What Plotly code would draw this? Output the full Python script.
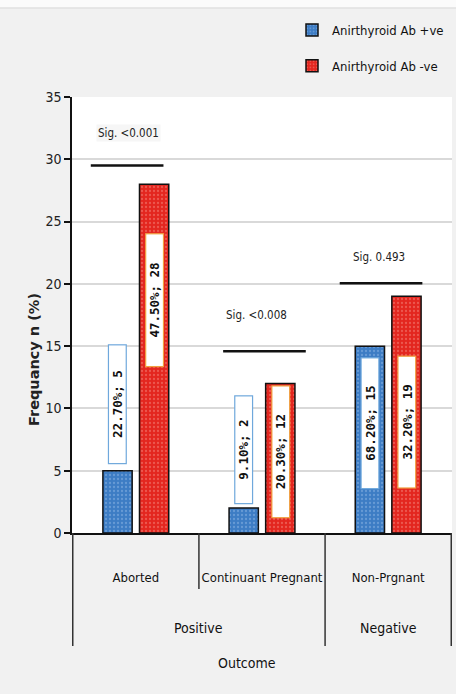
import plotly.graph_objects as go

# ---- data ----
outer_groups = ["Positive", "Negative"]
outer_members = [2, 1]
categories = ["Aborted", "Continuant Pregnant", "Non-Prgnant"]
series_names = ["Anirthyroid Ab +ve", "Anirthyroid Ab -ve"]
pos_values = [5, 2, 15]
neg_values = [28, 12, 19]
pos_pct = ["22.70%", "9.10%", "68.20%"]
neg_pct = ["47.50%", "20.30%", "32.20%"]
sig_labels = ["Sig. <0.001", "Sig. <0.008", "Sig. 0.493"]
y_ticks = [0, 5, 10, 15, 20, 25, 30, 35]

# ---- layout / style specs ----
NARROW = "DejaVu Sans Condensed, Liberation Sans Narrow, sans-serif"
BLUE = "#3d7cc4"
BLUE_DOT = "#8fb8e6"
RED = "#e3261f"
RED_DOT = "#f38a80"
OFF = 0.145  # bar centre offset from category centre (axis units)

pos_lab_y = [10.3, 6.7, 8.8]
pos_lab_len = [116, 105, 128]
neg_lab_y = [18.7, 6.5, 8.9]
neg_lab_len = [130, 129, 129]
sig_x0 = [-0.357, -0.308, -0.384]
sig_x1 = [0.219, 0.347, 0.271]
sig_y = [29.5, 14.6, 20.05]
sig_tx = [-0.058, -0.04, -0.07]
sig_ty = [32.1, 17.5, 22.15]

fig = go.Figure()
fig.add_trace(go.Bar(
    x=categories, y=pos_values, name=series_names[0], legendgroup="a",
    marker=dict(color=BLUE, line=dict(color="#111111", width=1.5),
                pattern=dict(shape=".", fgcolor=BLUE_DOT, size=4, solidity=0.25)),
))
fig.add_trace(go.Bar(
    x=categories, y=neg_values, name=series_names[1], legendgroup="b",
    marker=dict(color=RED, line=dict(color="#111111", width=1.5),
                pattern=dict(shape=".", fgcolor=RED_DOT, size=4, solidity=0.25)),
))

LABEL_FONT = dict(family="DejaVu Sans Mono, monospace", size=12.5, color="#111111", weight="bold")
annotations = []
shapes = []
for i in range(len(categories)):
    annotations.append(dict(
        x=i - OFF, y=pos_lab_y[i], xref="x", yref="y",
        text=f"{pos_pct[i]}; {pos_values[i]}", showarrow=False, textangle=-90,
        font=LABEL_FONT,
        bgcolor="white", bordercolor="#6fa8dc", borderwidth=1.2, borderpad=1,
        width=pos_lab_len[i], height=15,
    ))
    annotations.append(dict(
        x=i + OFF, y=neg_lab_y[i], xref="x", yref="y",
        text=f"{neg_pct[i]}; {neg_values[i]}", showarrow=False, textangle=-90,
        font=LABEL_FONT,
        bgcolor="white", bordercolor="#f0a040", borderwidth=1.2, borderpad=1,
        width=neg_lab_len[i], height=15,
    ))
    shapes.append(dict(type="line", xref="x", yref="y",
                       x0=i + sig_x0[i], x1=i + sig_x1[i], y0=sig_y[i], y1=sig_y[i],
                       line=dict(color="#111111", width=2.5)))
    annotations.append(dict(
        x=i + sig_tx[i], y=sig_ty[i], xref="x", yref="y", text=sig_labels[i],
        showarrow=False, font=dict(family=NARROW, size=11.5, color="#222222"),
        bgcolor="#f6f6f6" if i == 0 else "rgba(0,0,0,0)",
    ))

PLOT_H = 436.0
def py(px_below):
    return -px_below / PLOT_H

start = 0
for g, n in zip(outer_groups, outer_members):
    centre = start + (n - 1) / 2
    annotations.append(dict(x=centre, y=py(95), xref="x", yref="paper", text=g,
                            showarrow=False, yanchor="middle",
                            font=dict(family=NARROW, size=14, color="#111111")))
    shapes.append(dict(type="line", xref="x", yref="paper", x0=start - 0.5, x1=start - 0.5,
                       y0=0, y1=py(113), line=dict(color="#333333", width=1.5)))
    for k in range(1, n):
        shapes.append(dict(type="line", xref="x", yref="paper", x0=start + k - 0.5,
                           x1=start + k - 0.5, y0=0, y1=py(56),
                           line=dict(color="#333333", width=1.5)))
    start += n
shapes.append(dict(type="line", xref="x", yref="paper", x0=start - 0.5, x1=start - 0.5,
                   y0=0, y1=py(113), line=dict(color="#333333", width=1.5)))

annotations.append(dict(x=(247 - 72) / 380, y=py(130), xref="paper", yref="paper",
                        text="Outcome", showarrow=False, yanchor="middle",
                        font=dict(family=NARROW, size=14, color="#111111")))
annotations.append(dict(x=-(72 - 24) / 380, y=(533 - 360) / PLOT_H, xref="paper", yref="paper",
                        text="Frequancy n (%)", showarrow=False, textangle=-90,
                        font=dict(family="DejaVu Sans, Verdana, sans-serif", size=14.5,
                                  color="#222222", weight="bold")))

shapes.append(dict(type="rect", xref="paper", yref="paper", x0=-0.3, x1=1.1,
                   y0=(533 - 8) / PLOT_H, y1=1.3, fillcolor="#fbfbfb",
                   line=dict(width=0), layer="below"))
shapes.append(dict(type="line", xref="paper", yref="paper", x0=-0.3, x1=1.1,
                   y0=(533 - 8) / PLOT_H, y1=(533 - 8) / PLOT_H,
                   line=dict(color="#e0e0e0", width=1.5), layer="below"))

fig.update_layout(
    width=456, height=694,
    margin=dict(l=72, r=4, t=97, b=161, autoexpand=False),
    paper_bgcolor="#f1f1f1", plot_bgcolor="white",
    barmode="group", bargap=0.42, bargroupgap=0.2,
    showlegend=True,
    legend=dict(x=(292 - 72) / 380, y=(533 - 15) / PLOT_H, xanchor="left", yanchor="top",
                bgcolor="rgba(0,0,0,0)", tracegroupgap=16,
                font=dict(family=NARROW, size=13, color="#111111"),
                itemwidth=30),
    annotations=annotations, shapes=shapes,
    font=dict(family=NARROW, color="#222222"),
)
fig.update_xaxes(type="category", showline=True, linecolor="#111111", linewidth=2,
                 ticks="", tickfont=dict(family=NARROW, size=13, color="#111111"),
                 ticklabelstandoff=31, showgrid=False, zeroline=False)
fig.update_yaxes(range=[0, 35], tickvals=y_ticks, showline=True, linecolor="#111111",
                 linewidth=1.5, ticks="outside", ticklen=6, tickwidth=2, tickcolor="#111111",
                 tickfont=dict(family=NARROW, size=14, color="#222222"),
                 showgrid=True, gridcolor="#d9d9d9", gridwidth=1.5, zeroline=False)

fig.write_html("out.html")
